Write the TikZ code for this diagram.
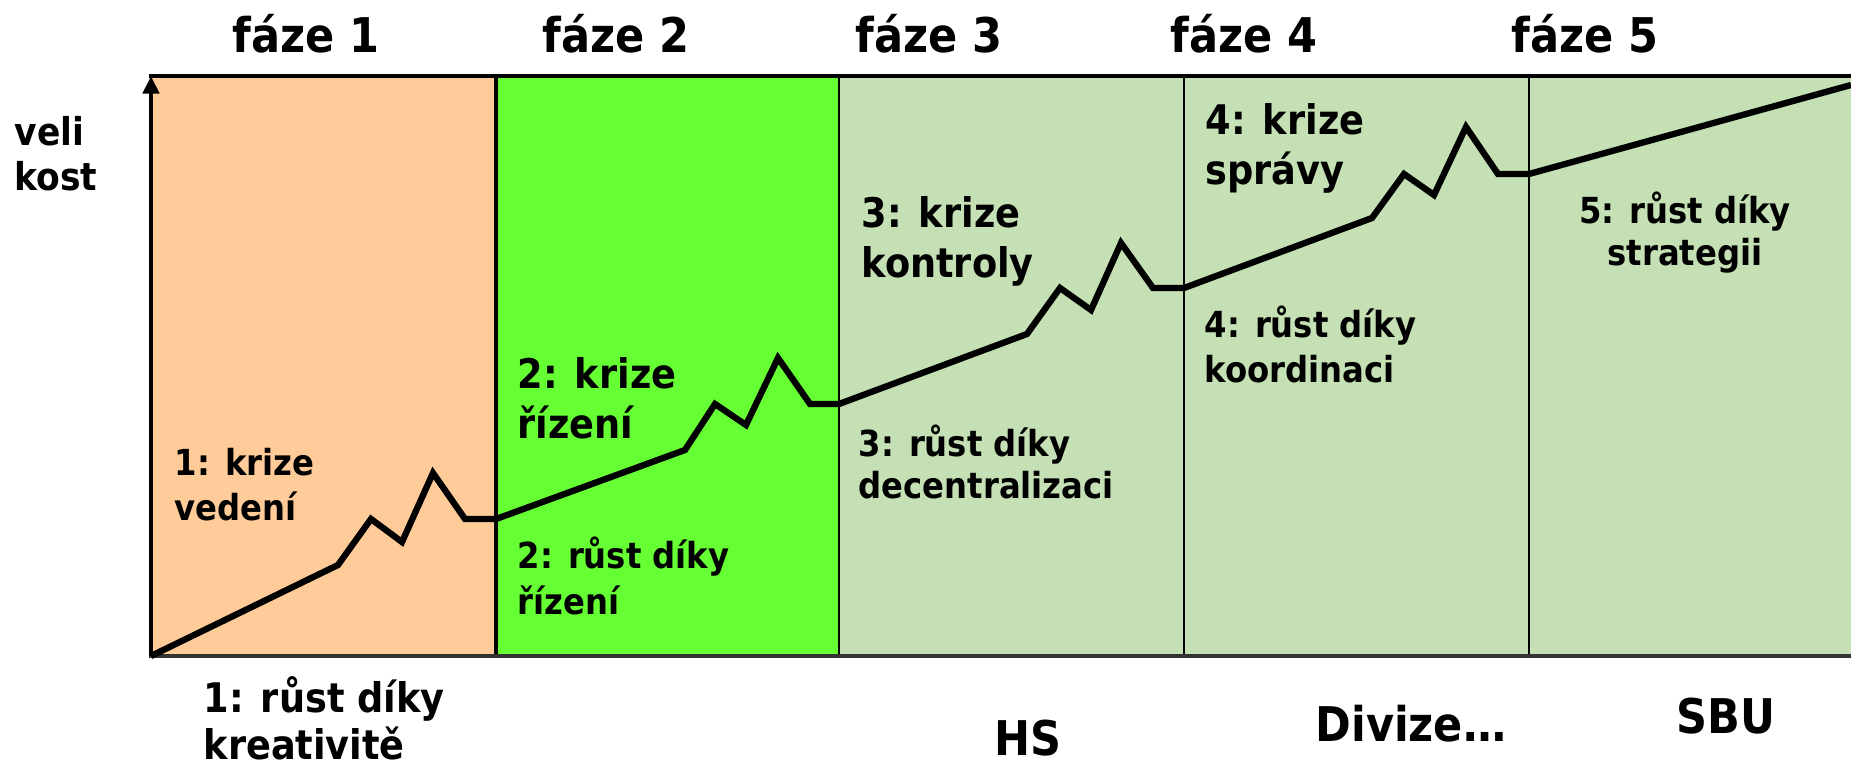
\documentclass[tikz,border=0pt]{standalone}
\usepackage{fontspec}
\setmainfont{DejaVu Sans Condensed}
\usetikzlibrary{arrows.meta}

\definecolor{peach}{HTML}{FFCC99}
\definecolor{lime}{HTML}{66FF33}
\definecolor{sage}{HTML}{C5E0B4}

\tikzset{
    head/.style={font=\bfseries\fontsize{13.6}{16}\selectfont, inner sep=0pt},
    big/.style={font=\bfseries\fontsize{11.6}{14.5}\selectfont, align=left, inner sep=0pt},
    small/.style={font=\bfseries\fontsize{10.2}{12.8}\selectfont, align=left, inner sep=0pt},
    growth/.style={line width=1.8pt},
}

\begin{document}
\begin{tikzpicture}[x=0.01cm, y=-0.01cm]
    \useasboundingbox (0, 0) rectangle (1851, 764);
    % phase areas
    \fill[peach] (151, 76) rectangle (496, 656);
    \fill[lime] (496, 76) rectangle (839, 656);
    \fill[sage] (839, 76) rectangle (1851, 656);
    \draw[line width=0.9pt] (496, 76) -- (496, 656);
    \draw[line width=0.8pt] (839, 76) -- (839, 656);
    \draw[line width=0.8pt] (1184, 76) -- (1184, 656);
    \draw[line width=0.8pt] (1529, 76) -- (1529, 656);
    \draw[line width=1.1pt] (149, 76) -- (1851, 76);
    \draw[line width=1pt, black!80] (149, 656) -- (1851, 656);
    \draw[line width=1.1pt, -{Triangle[width=4.6pt, length=5pt]}] (151, 656) -- (151, 76);

    % growth and crises
    \draw[growth] (151, 656) -- (338, 565) -- (371, 519) -- (402, 542) -- (433, 473) -- (465, 519) -- (496, 519);
    \draw[growth] (496, 519) -- (685, 450) -- (715, 404) -- (746, 425) -- (778, 358) -- (810, 404) -- (839, 404);
    \draw[growth] (839, 404) -- (1027, 334) -- (1060, 288) -- (1091, 310) -- (1121, 243) -- (1153, 288) -- (1184, 288);
    \draw[growth] (1184, 288) -- (1372, 218) -- (1404, 174) -- (1434, 195) -- (1466, 127) -- (1498, 174) -- (1529, 174);
    \draw[growth] (1529, 174) -- (1851, 85);

    % labels (anchored at the baseline of the last line)
    \node[head, anchor=base west] (f1) at (232, 53) {fáze 1};
    \node[head, anchor=base west] (f2) at (542, 53) {fáze 2};
    \node[head, anchor=base west] (f3) at (855, 53) {fáze 3};
    \node[head, anchor=base west] (f4) at (1170, 53) {fáze 4};
    \node[head, anchor=base west] (f5) at (1511, 53) {fáze 5};

    \node[small, font=\bfseries\fontsize{10.9}{13}\selectfont, anchor=base west] (size) at (14, 191) {veli\\kost};

    \node[small, anchor=base west] (k1) at (174, 521) {1: krize\\vedení};
    \node[big, anchor=base west] (k2) at (517, 439) {2: krize\\řízení};
    \node[big, anchor=base west] (k3) at (861, 278) {3: krize\\kontroly};
    \node[big, anchor=base west] (k4) at (1205, 185) {4: krize\\správy};

    \node[big, font=\bfseries\fontsize{11.6}{13.1}\selectfont, anchor=base west] (r1) at (203, 759) {1: růst díky\\kreativitě};
    \node[small, anchor=base west] (r2) at (517, 614) {2: růst díky\\řízení};
    \node[small, font=\bfseries\fontsize{10.2}{12.2}\selectfont, anchor=base west] (r3) at (858, 499) {3: růst díky\\decentralizaci};
    \node[small, anchor=base west] (r4) at (1204, 383) {4: růst díky\\koordinaci};
    \node[small, font=\bfseries\fontsize{10.2}{12.2}\selectfont, align=center, anchor=base] (r5) at (1685, 266) {5: růst díky\\strategii};

    \node[head, anchor=base] (hs) at (1028, 755) {HS};
    \node[head, anchor=base] (div) at (1411, 741) {Divize…};
    \node[head, anchor=base] (sbu) at (1726, 733) {SBU};
\end{tikzpicture}
\end{document}
